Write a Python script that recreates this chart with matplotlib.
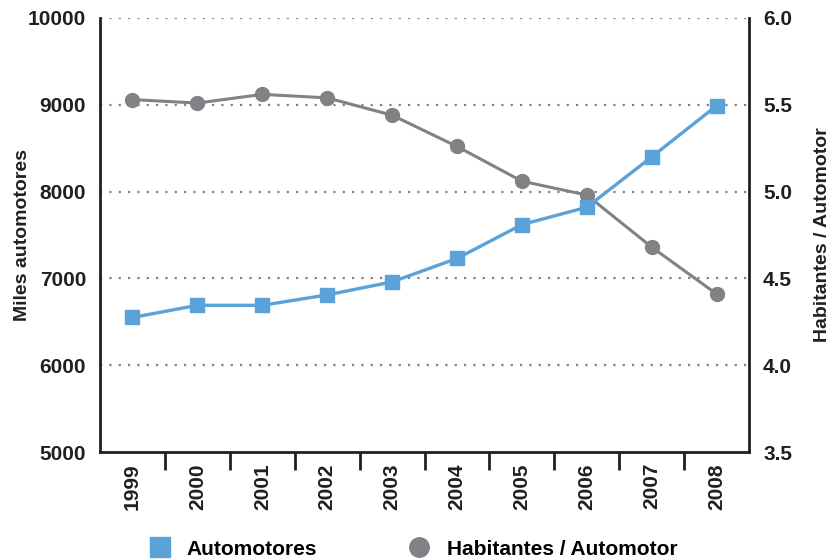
import matplotlib.pyplot as plt
from matplotlib.lines import Line2D

plt.rcParams['font.family'] = ['Liberation Sans', 'DejaVu Sans']
plt.rcParams['font.weight'] = 'bold'
plt.rcParams['axes.labelweight'] = 'bold'

years = ['1999', '2000', '2001', '2002', '2003', '2004', '2005', '2006', '2007', '2008']
automotores = [6550, 6690, 6690, 6810, 6960, 7230, 7620, 7820, 8400, 8990]
habitantes = [5.53, 5.51, 5.56, 5.54, 5.44, 5.26, 5.06, 4.98, 4.68, 4.41]

blue = '#5aa2d8'
gray = '#808285'
dark = '#231f20'

fig = plt.figure(figsize=(8.37, 5.59), dpi=100)
ax = fig.add_axes([0.1195, 0.1914, 0.7755, 0.7764])
ax2 = ax.twinx()
# blue series (left axis) drawn above the gray one
ax.set_zorder(ax2.get_zorder() + 1)
ax.patch.set_visible(False)

x = list(range(len(years)))

ax.set_xlim(-0.5, len(years) - 0.5)
ax.set_ylim(5000, 10000)
ax.set_yticks([5000, 6000, 7000, 8000, 9000, 10000])
ax2.set_ylim(3.5, 6.0)
ax2.set_yticks([3.5, 4.0, 4.5, 5.0, 5.5, 6.0])
ax2.set_yticklabels(['3.5', '4.0', '4.5', '5.0', '5.5', '6.0'])
for v in [4.0, 4.5, 5.0, 5.5, 6.0]:
    ax2.axhline(v, color=gray, linestyle=(0, (1, 3.2)), linewidth=1.6, zorder=1)

ax2.plot(x, habitantes, color=gray, linewidth=2.2, marker='o', markersize=10, zorder=3)
ax.plot(x, automotores, color=blue, linewidth=2.4, marker='s', markersize=10, zorder=4)

ax.set_xticks(x)
ax.set_xticklabels(years, rotation=90, fontsize=15, color=dark, fontweight='bold')
ax.set_xticks([i + 0.5 for i in range(len(years) - 1)], minor=True)
ax.tick_params(axis='x', which='major', length=0, pad=8)
ax.tick_params(axis='x', which='minor', length=13, width=2, color=dark, direction='out')
ax.tick_params(axis='y', length=0, pad=10, labelsize=15, labelcolor=dark)
ax2.tick_params(axis='y', length=0, pad=10, labelsize=15, labelcolor=dark)
for lbl in ax.get_yticklabels() + ax2.get_yticklabels():
    lbl.set_fontweight('bold')

for a in (ax, ax2):
    a.spines['top'].set_visible(False)
ax.spines['right'].set_visible(False)
for s in ('left', 'bottom'):
    ax.spines[s].set_linewidth(2)
    ax.spines[s].set_color(dark)
ax2.spines['right'].set_linewidth(2)
ax2.spines['right'].set_color(dark)
ax2.spines['left'].set_visible(False)
ax2.spines['bottom'].set_visible(False)

ax.set_ylabel('Miles automotores', fontsize=14, color=dark, fontweight='bold')
ax2.set_ylabel('Habitantes / Automotor', fontsize=14, color=dark, fontweight='bold')
ax.yaxis.set_label_coords(-0.107, 0.5)
ax2.yaxis.set_label_coords(1.1, 0.5)

handles = [
    Line2D([], [], color=blue, marker='s', linestyle='none', markersize=14),
    Line2D([], [], color=gray, marker='o', linestyle='none', markersize=14),
]
fig.legend(handles, ['Automotores', 'Habitantes / Automotor'], loc='lower center',
           bbox_to_anchor=(0.4875, -0.033), ncol=2, frameon=False,
           handletextpad=0.3, columnspacing=3.9, prop={'weight': 'bold', 'size': 15})

fig.savefig('out.png', dpi=100)
